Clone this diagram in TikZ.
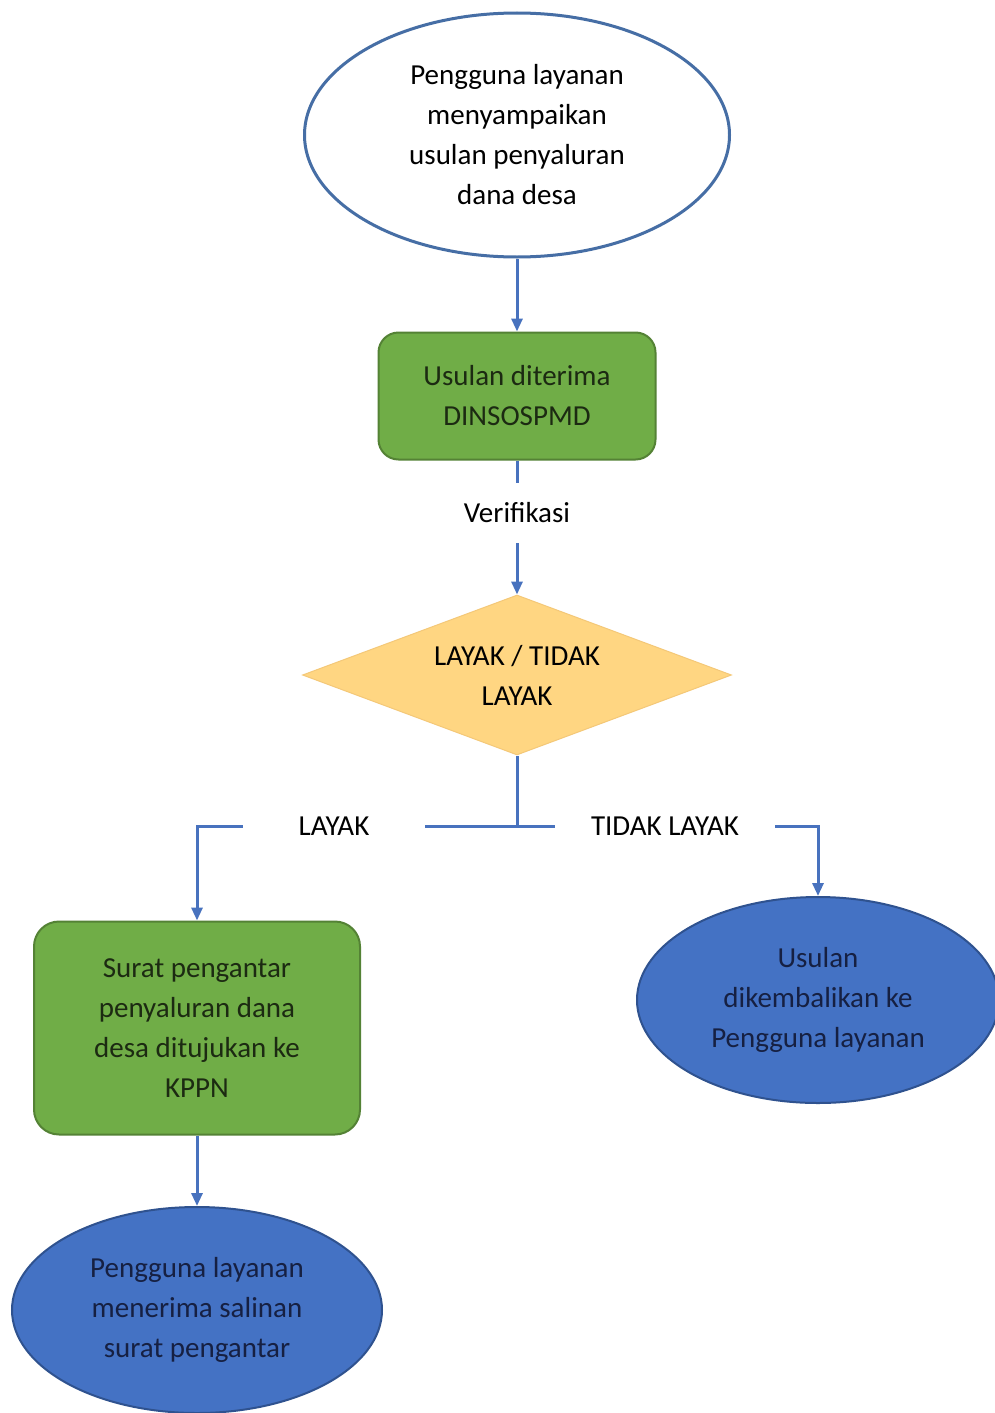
\documentclass[tikz,border=0pt]{standalone}
\usepackage{fontspec}
\setmainfont{Carlito}
\usetikzlibrary{shapes.geometric,arrows.meta}

\definecolor{lineblue}{RGB}{72,114,190}
\definecolor{ovalline}{RGB}{70,110,165}
\definecolor{boxgreen}{RGB}{112,173,71}
\definecolor{boxgreenline}{RGB}{84,130,53}
\definecolor{greentext}{RGB}{28,42,18}
\definecolor{decfill}{RGB}{255,214,130}
\definecolor{decline}{RGB}{244,200,120}
\definecolor{ovalblue}{RGB}{68,114,196}
\definecolor{ovalblueline}{RGB}{47,82,143}
\definecolor{navytext}{RGB}{22,32,66}

\tikzset{
  startoval/.style={ellipse, draw=ovalline, line width=3pt, fill=white,
    minimum width=425, minimum height=244, inner sep=0pt},
  procbox/.style={rectangle, rounded corners=20pt, draw=boxgreenline, line width=2pt,
    fill=boxgreen, text=greentext, minimum width=277, minimum height=127},
  decbox/.style={diamond, aspect=2.68, draw=decline, line width=1pt, fill=decfill,
    minimum width=429, minimum height=160, inner sep=0pt},
  endoval/.style={ellipse, draw=ovalblueline, line width=2pt, fill=ovalblue,
    text=navytext, minimum height=206, inner sep=0pt},
  lbl/.style={inner sep=0pt},
  ln/.style={draw=lineblue, line width=3pt},
  arr/.style={ln, -{Triangle[width=11pt,length=13pt]}}
}

\begin{document}
\begin{tikzpicture}[x=1pt,y=-1pt,
    every node/.style={font=\fontsize{29}{40}\selectfont, align=center}]
    \clip (0,0) rectangle (995,1413);
    \fill[white] (0,0) rectangle (995,1413);

    % shapes
    \node[startoval] (start) at (517,135) {Pengguna layanan\\menyampaikan\\usulan penyaluran\\dana desa};
    \node[procbox] (terima) at (517,396) {Usulan diterima\\DINSOSPMD};
    \node[lbl, minimum height=60] (verif) at (517,513) {Verifikasi};
    \node[decbox] (cek) at (517,675) {LAYAK / TIDAK\\LAYAK};

    \coordinate (cabang) at (517,826);
    \node[lbl, minimum width=182] (layak) at (334,826) {LAYAK};
    \node[lbl, minimum width=220] (tdk) at (665,826) {TIDAK LAYAK};

    \node[procbox, minimum width=326, minimum height=213, rounded corners=25pt] (surat) at (197,1028)
        {Surat pengantar\\penyaluran dana\\desa ditujukan ke\\KPPN};
    \node[endoval, minimum width=370] (salinan) at (197,1310)
        {Pengguna layanan\\menerima salinan\\surat pengantar};
    \node[endoval, minimum width=362] (kembali) at (818,1000)
        {Usulan\\dikembalikan ke\\Pengguna layanan};

    % connectors
    \draw[arr] (start) -- (terima);
    \draw[ln] (terima) -- (verif);
    \draw[arr] (verif) -- (cek);
    \draw[ln] (cek) -- (cabang);
    \draw[ln] (cabang) -- (layak.east);
    \draw[ln] (cabang) -- (tdk.west);
    \draw[arr] (layak.west) -| (surat);
    \draw[arr] (tdk.east) -| (kembali);
    \draw[arr] (surat) -- (salinan);
\end{tikzpicture}
\end{document}
